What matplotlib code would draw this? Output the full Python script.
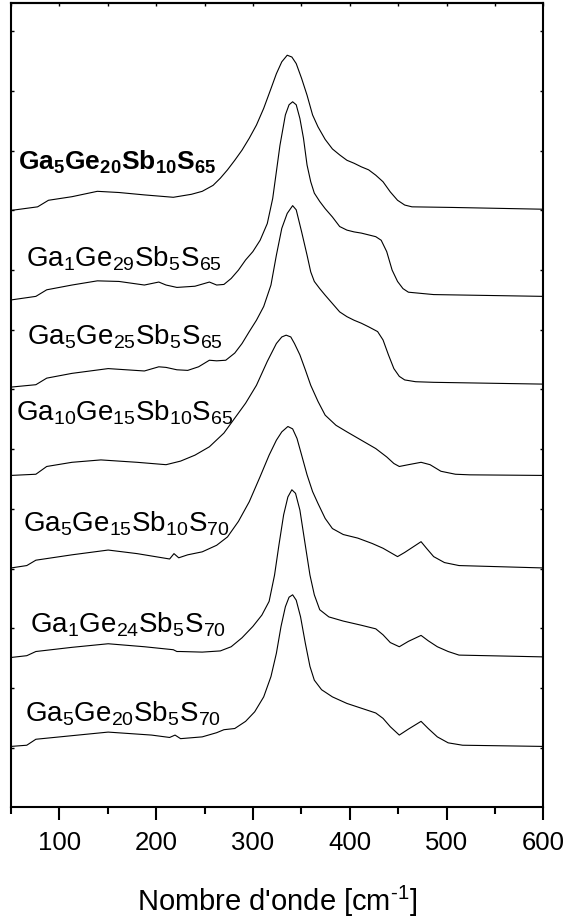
import numpy as np
import matplotlib
matplotlib.use("Agg")
import matplotlib.pyplot as plt
from matplotlib.ticker import MultipleLocator

plt.rcParams["font.family"] = ["Liberation Sans", "DejaVu Sans"]
plt.rcParams["mathtext.fontset"] = "custom"
plt.rcParams["mathtext.rm"] = "Liberation Sans"
plt.rcParams["mathtext.bf"] = "Liberation Sans:bold"

# Spectres Raman empilés (intensité décalée verticalement, u.a.)
x_ga5ge20sb10s65 = [50, 77.5, 88.7, 113.0, 139.2, 161.6, 187.8, 217.7, 236.4, 247.6, 258.8, 266.3,
                    273.7, 281.2, 288.7, 296.2, 303.6, 311.1, 318.6, 324.2, 329.8, 335.4, 340.2,
                    344.7, 350.3, 355.9, 361.6, 367.2, 374.6, 382.1, 389.6, 397.1, 404.5, 412.0,
                    419.5, 426.9, 434.4, 441.9, 449.4, 456.8, 464.3, 505.4, 600]
y_ga5ge20sb10s65 = [10.00, 10.06, 10.17, 10.23, 10.32, 10.30, 10.26, 10.22, 10.27, 10.32, 10.42, 10.54,
                    10.68, 10.84, 11.01, 11.21, 11.43, 11.71, 12.04, 12.29, 12.49, 12.60, 12.57,
                    12.46, 12.21, 11.93, 11.60, 11.40, 11.19, 11.03, 10.93, 10.84, 10.79, 10.73,
                    10.68, 10.59, 10.48, 10.31, 10.17, 10.09, 10.06, 10.05, 10.02]

x_ga1ge29sb5s65 = [50, 75.7, 86.9, 113.0, 139.2, 161.6, 187.8, 202.7, 210.2, 221.4, 240.1, 255.0,
                   262.5, 270.0, 277.5, 285.0, 292.4, 299.9, 307.4, 314.8, 320.4, 324.2, 327.9,
                   333.5, 337.3, 341.0, 344.7, 348.5, 352.2, 355.9, 359.7, 363.4, 369.0, 374.6,
                   382.1, 389.6, 397.1, 404.5, 412.0, 419.5, 426.9, 432.5, 438.2, 443.8, 449.4,
                   455.0, 460.6, 486.7, 600]
y_ga1ge29sb5s65 = [8.50, 8.56, 8.67, 8.75, 8.82, 8.81, 8.75, 8.80, 8.75, 8.71, 8.73, 8.80,
                   8.75, 8.76, 8.86, 9.00, 9.17, 9.31, 9.50, 9.78, 10.20, 10.65, 11.09,
                   11.60, 11.77, 11.82, 11.77, 11.54, 11.21, 10.76, 10.48, 10.29, 10.15, 10.03,
                   9.89, 9.73, 9.67, 9.64, 9.62, 9.59, 9.56, 9.50, 9.31, 9.00, 8.81,
                   8.69, 8.63, 8.59, 8.56]

x_ga5ge25sb5s65 = [50, 75.7, 86.9, 113.0, 150.4, 187.8, 202.7, 210.2, 221.4, 232.6, 243.8, 255.0,
                   262.5, 271.9, 281.2, 288.7, 296.2, 303.6, 311.1, 318.6, 324.2, 329.8, 335.4,
                   341.0, 344.7, 350.3, 355.9, 359.7, 363.4, 369.0, 374.6, 382.1, 389.6, 397.1,
                   404.5, 412.0, 419.5, 428.8, 434.4, 440.0, 445.6, 451.2, 456.8, 468.1, 486.7,
                   600]
y_ga5ge25sb5s65 = [7.04, 7.08, 7.19, 7.27, 7.35, 7.31, 7.38, 7.37, 7.33, 7.32, 7.38, 7.49,
                   7.48, 7.49, 7.61, 7.77, 7.97, 8.16, 8.39, 8.75, 9.25, 9.70, 9.95,
                   10.08, 10.01, 9.64, 9.25, 8.97, 8.81, 8.69, 8.58, 8.44, 8.30, 8.22,
                   8.16, 8.11, 8.05, 7.97, 7.83, 7.58, 7.35, 7.22, 7.16, 7.13, 7.12,
                   7.09]

x_ga10ge15sb10s65 = [50, 75.7, 86.9, 113.0, 142.9, 180.3, 210.2, 225.2, 240.1, 255.0, 270.0, 281.2,
                     292.4, 303.6, 314.8, 324.2, 329.8, 334.3, 339.1, 342.9, 348.5, 354.1, 359.7,
                     367.2, 374.6, 385.8, 397.1, 412.0, 426.9, 438.2, 445.6, 451.2, 460.6, 473.7,
                     483.0, 494.2, 509.2, 524.1, 600]
y_ga10ge15sb10s65 = [5.56, 5.58, 5.71, 5.78, 5.82, 5.78, 5.74, 5.80, 5.90, 6.04, 6.27, 6.52,
                     6.77, 7.07, 7.47, 7.77, 7.88, 7.91, 7.88, 7.77, 7.58, 7.33, 7.07,
                     6.80, 6.57, 6.40, 6.29, 6.15, 6.01, 5.87, 5.76, 5.71, 5.74, 5.78,
                     5.74, 5.63, 5.58, 5.57, 5.56]

x_ga5ge15sb10s70 = [50, 66.3, 75.7, 113.0, 150.4, 180.3, 210.2, 213.9, 218.4, 223.3, 232.6, 247.6,
                    262.5, 273.7, 285.0, 296.2, 307.4, 316.7, 324.2, 329.8, 336.1, 341.0, 345.5,
                    350.3, 355.9, 361.6, 367.2, 374.6, 382.1, 393.3, 408.3, 423.2, 434.4, 441.9,
                    449.4, 456.8, 466.2, 473.7, 479.3, 486.7, 497.9, 512.9, 600]
y_ga5ge15sb10s70 = [4.01, 4.05, 4.14, 4.23, 4.31, 4.25, 4.17, 4.16, 4.25, 4.18, 4.23, 4.28,
                    4.39, 4.53, 4.79, 5.12, 5.54, 5.90, 6.15, 6.29, 6.38, 6.34, 6.18,
                    5.90, 5.57, 5.29, 5.09, 4.84, 4.67, 4.57, 4.51, 4.42, 4.34, 4.27,
                    4.20, 4.27, 4.37, 4.45, 4.34, 4.20, 4.10, 4.05, 4.01]

x_ga1ge24sb5s70 = [50, 66.3, 75.7, 113.0, 150.4, 187.8, 217.7, 221.4, 225.2, 247.6, 266.3, 277.5,
                   288.7, 299.9, 309.2, 316.7, 322.3, 326.8, 331.7, 336.1, 340.2, 344.0, 348.5,
                   354.1, 358.9, 363.4, 369.0, 378.4, 393.3, 412.0, 426.9, 434.4, 441.9, 451.2,
                   460.6, 473.7, 481.1, 490.5, 501.7, 512.9, 600]
y_ga1ge24sb5s70 = [2.51, 2.54, 2.61, 2.68, 2.74, 2.69, 2.64, 2.61, 2.61, 2.60, 2.62, 2.69,
                   2.84, 3.03, 3.22, 3.45, 3.89, 4.39, 4.90, 5.20, 5.32, 5.26, 4.98,
                   4.39, 3.89, 3.56, 3.31, 3.19, 3.12, 3.05, 2.99, 2.89, 2.76, 2.69,
                   2.78, 2.88, 2.79, 2.69, 2.61, 2.55, 2.52]

x_ga5ge20sb5s70 = [50, 66.3, 75.7, 113.0, 150.4, 195.2, 213.9, 219.5, 225.2, 247.6, 262.5, 270.0,
                   281.2, 292.4, 301.8, 311.1, 318.6, 324.2, 329.0, 333.5, 337.3, 341.0, 344.7,
                   349.2, 354.1, 358.9, 363.4, 370.9, 382.1, 397.1, 412.0, 426.9, 434.4, 441.9,
                   451.2, 460.6, 473.7, 481.1, 490.5, 501.7, 516.6, 600]
y_ga5ge20sb5s70 = [1.02, 1.04, 1.14, 1.20, 1.26, 1.21, 1.17, 1.21, 1.15, 1.18, 1.25, 1.30,
                   1.32, 1.44, 1.60, 1.85, 2.19, 2.58, 3.03, 3.36, 3.52, 3.56, 3.47,
                   3.19, 2.75, 2.36, 2.13, 1.97, 1.85, 1.74, 1.66, 1.58, 1.49, 1.35,
                   1.21, 1.31, 1.44, 1.32, 1.18, 1.08, 1.04, 1.02]

spectra = [
    (x_ga5ge20sb10s65, y_ga5ge20sb10s65),
    (x_ga1ge29sb5s65, y_ga1ge29sb5s65),
    (x_ga5ge25sb5s65, y_ga5ge25sb5s65),
    (x_ga10ge15sb10s65, y_ga10ge15sb10s65),
    (x_ga5ge15sb10s70, y_ga5ge15sb10s70),
    (x_ga1ge24sb5s70, y_ga1ge24sb5s70),
    (x_ga5ge20sb5s70, y_ga5ge20sb5s70),
]

# compositions et position (x, ligne de base) des étiquettes
labels = [
    r"$\mathregular{Ga_5Ge_{20}Sb_{10}S_{65}}$",
    r"$\mathregular{Ga_1Ge_{29}Sb_5S_{65}}$",
    r"$\mathregular{Ga_5Ge_{25}Sb_5S_{65}}$",
    r"$\mathregular{Ga_{10}Ge_{15}Sb_{10}S_{65}}$",
    r"$\mathregular{Ga_5Ge_{15}Sb_{10}S_{70}}$",
    r"$\mathregular{Ga_1Ge_{24}Sb_5S_{70}}$",
    r"$\mathregular{Ga_5Ge_{20}Sb_5S_{70}}$",
]
label_x = [57.0, 65.2, 66.3, 55.1, 62.6, 70.1, 64.5]
label_y = [10.69, 9.08, 7.77, 6.49, 4.64, 2.94, 1.46]

fig = plt.figure(figsize=(5.67, 9.2), dpi=100)
ax = fig.add_axes([11 / 567, 1 - 808.3 / 920, 532.3 / 567, 804 / 920])

for xs, ys in spectra:
    ax.plot(xs, ys, color="black", linewidth=0.8)

for i, (txt, lx, ly) in enumerate(zip(labels, label_x, label_y)):
    ax.text(lx, ly, txt, fontsize=19 if i == 0 else 20,
            fontweight="bold" if i == 0 else "normal", va="baseline", ha="left")

ax.set_xlim(50, 600)
ax.set_ylim(0, 13.47)
ax.xaxis.set_major_locator(MultipleLocator(100))
ax.xaxis.set_minor_locator(MultipleLocator(50))
ax.set_yticks(np.arange(1, 14))
ax.set_yticklabels([])

for side in ax.spines.values():
    side.set_linewidth(1.5)

ax.tick_params(axis="x", which="major", direction="out", length=9.5, width=1.5,
               labelsize=18.5, pad=7)
ax.tick_params(axis="x", which="minor", direction="out", length=5, width=1.5)
ax.tick_params(axis="y", which="major", direction="in", length=2.5, width=1,
               left=True, right=True)

top = ax.secondary_xaxis("top")
top.xaxis.set_major_locator(MultipleLocator(50))
top.tick_params(direction="in", length=2.5, width=1, labeltop=False)
top.spines["top"].set_linewidth(1.5)

ax.set_xlabel(r"Nombre d'onde [cm$^{\text{-1}}$]", fontsize=21)
ax.xaxis.set_label_coords(0.5, -0.094)

fig.savefig("out.png", dpi=100)
